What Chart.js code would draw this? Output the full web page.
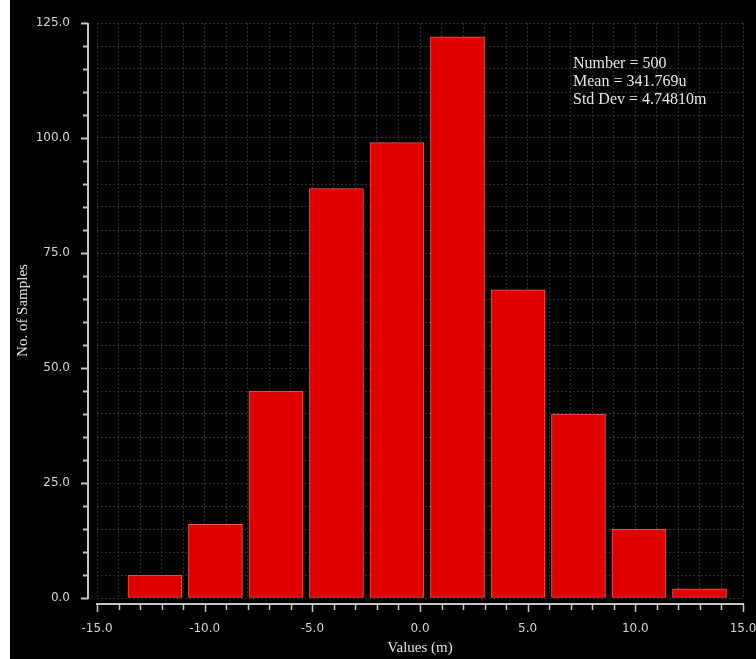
<!DOCTYPE html>
<html>
<head>
<meta charset="utf-8">
<script src="https://cdn.jsdelivr.net/npm/chart.js@4/dist/chart.umd.min.js"></script>
<style>
  html, body { margin: 0; padding: 0; background: #ffffff; }
  #frame { position: absolute; left: 10px; top: 0; width: 746px; height: 659px; background: #000000; }
  canvas { display: block; }
</style>
</head>
<body>
<div id="frame"><canvas id="hist" width="746" height="659"></canvas></div>
<script>
// Histogram bins: centre of each bin (m units on the axis) and sample counts
const binCenters = [-12.31, -9.50, -6.69, -3.88, -1.07, 1.74, 4.55, 7.36, 10.17, 12.98];
const binCounts  = [5, 16, 45, 89, 99, 122, 67, 40, 15, 2];

// Summary statistics printed in the corner
const statLines = ['Number = 500', 'Mean = 341.769u', 'Std Dev = 4.74810m'];

// Axis ranges and tick spacing
const xRange = [-15, 15];
const yRange = [0, 125];
const xMinorStep = 1, xMajorStep = 5;
const yMinorStep = 5, yMajorStep = 25;

const axisColor = '#c4c4c4';
const textColor = '#d4d4d4';
const gridColor = '#303030';

// Keep the plot area fixed: tick labels must not push it inward
function noScalePadding(scale) {
  scale.paddingTop = 0;
  scale.paddingBottom = 0;
  scale.paddingLeft = 0;
  scale.paddingRight = 0;
}

// Detached axis lines with major/minor tick marks, drawn from the scales
const detachedAxes = {
  id: 'detachedAxes',
  afterDraw(chart) {
    const { ctx, chartArea, scales: { x, y } } = chart;
    ctx.save();
    ctx.strokeStyle = axisColor;
    ctx.lineWidth = 2;
    // vertical axis
    const ax = chartArea.left - 9;
    ctx.beginPath();
    ctx.moveTo(ax, y.getPixelForValue(yRange[1]));
    ctx.lineTo(ax, y.getPixelForValue(yRange[0]) + 1);
    for (let v = yRange[0]; v <= yRange[1]; v += yMinorStep) {
      const py = Math.round(y.getPixelForValue(v)) + 0.5;
      const len = v % yMajorStep === 0 ? 7 : 5;
      ctx.moveTo(ax - len, py);
      ctx.lineTo(ax, py);
    }
    ctx.stroke();
    // horizontal axis
    const ay = chartArea.bottom + 6;
    ctx.beginPath();
    ctx.moveTo(x.getPixelForValue(xRange[0]) - 1, ay);
    ctx.lineTo(x.getPixelForValue(xRange[1]) + 1, ay);
    ctx.stroke();
    ctx.lineWidth = 1.5;
    ctx.beginPath();
    for (let v = xRange[0]; v <= xRange[1]; v += xMinorStep) {
      const px = Math.round(x.getPixelForValue(v)) + 0.5;
      const len = v % xMajorStep === 0 ? 8 : 6;
      ctx.moveTo(px, ay);
      ctx.lineTo(px, ay + len);
    }
    ctx.stroke();
    ctx.restore();
  }
};

// Statistics block in the upper right of the plot
const statsBlock = {
  id: 'statsBlock',
  afterDraw(chart) {
    const { ctx, chartArea } = chart;
    ctx.save();
    ctx.fillStyle = '#e6e6e6';
    ctx.font = '16px "Liberation Serif", "Times New Roman", serif';
    ctx.textAlign = 'left';
    ctx.textBaseline = 'middle';
    statLines.forEach((line, i) => {
      ctx.fillText(line, chartArea.right - 170, chartArea.top + 41 + i * 18);
    });
    ctx.restore();
  }
};

const points = binCenters.map((c, i) => ({ x: c, y: binCounts[i] }));

new Chart(document.getElementById('hist'), {
  type: 'bar',
  data: {
    datasets: [{
      data: points,
      backgroundColor: 'rgb(224, 0, 0)',
      borderColor: 'rgb(255, 85, 85)',
      borderWidth: 1,
      borderSkipped: false,
      barThickness: 54
    }]
  },
  options: {
    responsive: false,
    animation: false,
    layout: { padding: { top: 23, right: 13, left: 0, bottom: 0 } },
    plugins: { legend: { display: false }, tooltip: { enabled: false } },
    scales: {
      x: {
        type: 'linear',
        min: xRange[0],
        max: xRange[1],
        offset: false,
        grid: { color: gridColor, lineWidth: 1, drawTicks: false, offset: false },
        border: { display: false, dash: [2, 2] },
        ticks: {
          stepSize: xMinorStep,
          autoSkip: false,
          maxRotation: 0,
          padding: 24,
          color: textColor,
          font: { family: '"DejaVu Sans", sans-serif', size: 12 },
          callback: v => (v % xMajorStep === 0 ? v.toFixed(1) : '')
        },
        title: {
          display: true,
          text: 'Values (m)',
          color: '#e0e0e0',
          font: { family: '"Liberation Serif", "Times New Roman", serif', size: 15 },
          padding: { top: 0, bottom: 2 }
        },
        afterFit(scale) { scale.height = 61; noScalePadding(scale); }
      },
      y: {
        min: yRange[0],
        max: yRange[1],
        grid: { color: gridColor, lineWidth: 1, drawTicks: false },
        border: { display: false, dash: [2, 2] },
        ticks: {
          stepSize: yMinorStep,
          autoSkip: false,
          padding: 27,
          color: textColor,
          font: { family: '"DejaVu Sans", sans-serif', size: 12 },
          callback: v => (v % yMajorStep === 0 ? v.toFixed(1) : '')
        },
        title: {
          display: true,
          text: 'No. of Samples',
          color: '#e0e0e0',
          font: { family: '"Liberation Serif", "Times New Roman", serif', size: 15 },
          padding: { top: 4, bottom: 0 }
        },
        afterFit(scale) { scale.width = 87; noScalePadding(scale); }
      }
    }
  },
  plugins: [detachedAxes, statsBlock]
});
</script>
</body>
</html>
